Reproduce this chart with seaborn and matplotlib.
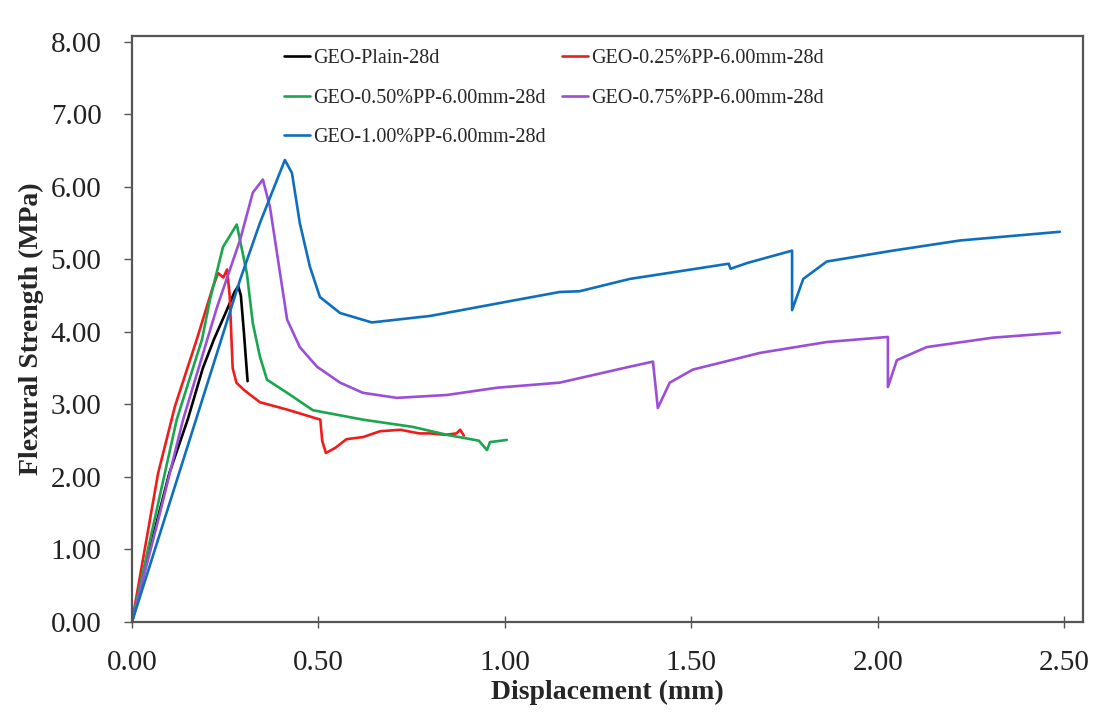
import seaborn as sns
import matplotlib.pyplot as plt
import pandas as pd

# series (displacement mm, flexural strength MPa)
plain_x = [0, 0.05, 0.10, 0.15, 0.19, 0.22, 0.25, 0.275, 0.285, 0.292, 0.30, 0.31]
plain_y = [0, 1.05, 2.05, 2.80, 3.50, 3.90, 4.25, 4.55, 4.63, 4.50, 4.00, 3.32]

pp025_x = [0, 0.07, 0.115, 0.174, 0.217, 0.231, 0.245, 0.255, 0.262, 0.27, 0.28, 0.30, 0.343,
           0.415, 0.505, 0.51, 0.52, 0.545, 0.575, 0.62, 0.665, 0.72, 0.77, 0.80, 0.84, 0.87, 0.88, 0.89]
pp025_y = [0, 2.05, 2.97, 3.90, 4.62, 4.81, 4.75, 4.86, 4.50, 3.50, 3.30, 3.20, 3.03,
           2.93, 2.79, 2.50, 2.33, 2.40, 2.52, 2.55, 2.63, 2.65, 2.60, 2.60, 2.58, 2.60, 2.65, 2.57]

pp050_x = [0, 0.06, 0.12, 0.188, 0.209, 0.244, 0.281, 0.308, 0.324, 0.343, 0.362, 0.416,
           0.485, 0.619, 0.753, 0.845, 0.93, 0.952, 0.96, 1.005]
pp050_y = [0, 1.40, 2.79, 3.90, 4.44, 5.17, 5.48, 4.81, 4.12, 3.66, 3.34, 3.16,
           2.92, 2.79, 2.69, 2.58, 2.50, 2.37, 2.48, 2.51]

pp075_x = [0, 0.07, 0.137, 0.228, 0.29, 0.324, 0.351, 0.37, 0.397, 0.416, 0.45, 0.496, 0.558,
           0.619, 0.71, 0.845, 0.979, 1.147, 1.335, 1.397, 1.41, 1.442, 1.504, 1.684, 1.863,
           2.027, 2.027, 2.051, 2.131, 2.308, 2.488]
pp075_y = [0, 1.40, 2.79, 4.34, 5.27, 5.92, 6.10, 5.72, 4.81, 4.17, 3.79, 3.52, 3.30,
           3.16, 3.09, 3.13, 3.23, 3.30, 3.52, 3.59, 2.95, 3.30, 3.48, 3.71, 3.86,
           3.93, 3.24, 3.61, 3.79, 3.92, 3.99]

pp100_x = [0, 0.08, 0.16, 0.29, 0.343, 0.41, 0.429, 0.45, 0.477, 0.504, 0.558, 0.643, 0.80,
           1.02, 1.147, 1.2, 1.335, 1.6, 1.605, 1.65, 1.77, 1.77, 1.80, 1.863, 2.04, 2.22, 2.488]
pp100_y = [0, 1.30, 2.60, 4.72, 5.50, 6.37, 6.19, 5.50, 4.90, 4.48, 4.26, 4.13, 4.22,
           4.43, 4.55, 4.56, 4.73, 4.94, 4.87, 4.95, 5.12, 4.30, 4.73, 4.97, 5.12, 5.26, 5.38]

labels = ["GEO-Plain-28d", "GEO-0.25%PP-6.00mm-28d", "GEO-0.50%PP-6.00mm-28d",
          "GEO-0.75%PP-6.00mm-28d", "GEO-1.00%PP-6.00mm-28d"]
colors = ["#000000", "#f01c1c", "#1aa64f", "#9b4fd8", "#0f6fbf"]

frames = []
for lab, xs, ys in zip(labels, [plain_x, pp025_x, pp050_x, pp075_x, pp100_x],
                       [plain_y, pp025_y, pp050_y, pp075_y, pp100_y]):
    frames.append(pd.DataFrame({"x": xs, "y": ys, "mix": lab}))
df = pd.concat(frames, ignore_index=True)

sns.set_style("white")
plt.rcParams['font.family'] = ['Liberation Serif', 'DejaVu Serif']

fig = plt.figure(figsize=(10.98, 7.15), dpi=100)
ax = fig.add_axes([0.1202, 0.1301, 0.8661, 0.8196])

sns.lineplot(data=df, x="x", y="y", hue="mix", palette=colors, sort=False,
             estimator=None, units="mix", lw=1.9, ax=ax)

ax.set_xlim(0, 2.55)
ax.set_ylim(0, 8.08)
ax.set_xticks([0, 0.5, 1.0, 1.5, 2.0, 2.5])
ax.set_yticks(range(9))
ax.set_xticklabels([f"{v:.2f}" for v in [0, 0.5, 1.0, 1.5, 2.0, 2.5]])
ax.set_yticklabels([f"{v:.2f}" for v in range(9)])
ax.tick_params(axis='x', bottom=True, direction='inout', length=8, width=1, colors='#555555',
               labelsize=21, labelcolor='#222222', pad=16)
ax.tick_params(axis='y', left=True, direction='out', length=6, width=1, colors='#555555',
               labelsize=21, labelcolor='#222222', pad=16)
for s in ax.spines.values():
    s.set_color('#555555')
    s.set_linewidth(1.6)

ax.set_xlabel("Displacement (mm)", fontsize=20, fontweight='bold', labelpad=3)
ax.set_ylabel("Flexural Strength (MPa)", fontsize=20, fontweight='bold', labelpad=5)

# legend reads row by row in the reference
h, l = ax.get_legend_handles_labels()
order = [0, 2, 4, 1, 3]
ax.legend([h[i] for i in order], [l[i] for i in order],
          loc='upper left', bbox_to_anchor=(0.141, 1.008), ncol=2, frameon=False,
          fontsize=14.5, handlelength=1.3, handletextpad=0.15, columnspacing=0.8,
          labelspacing=1.0)

fig.savefig("out.png", dpi=100)
